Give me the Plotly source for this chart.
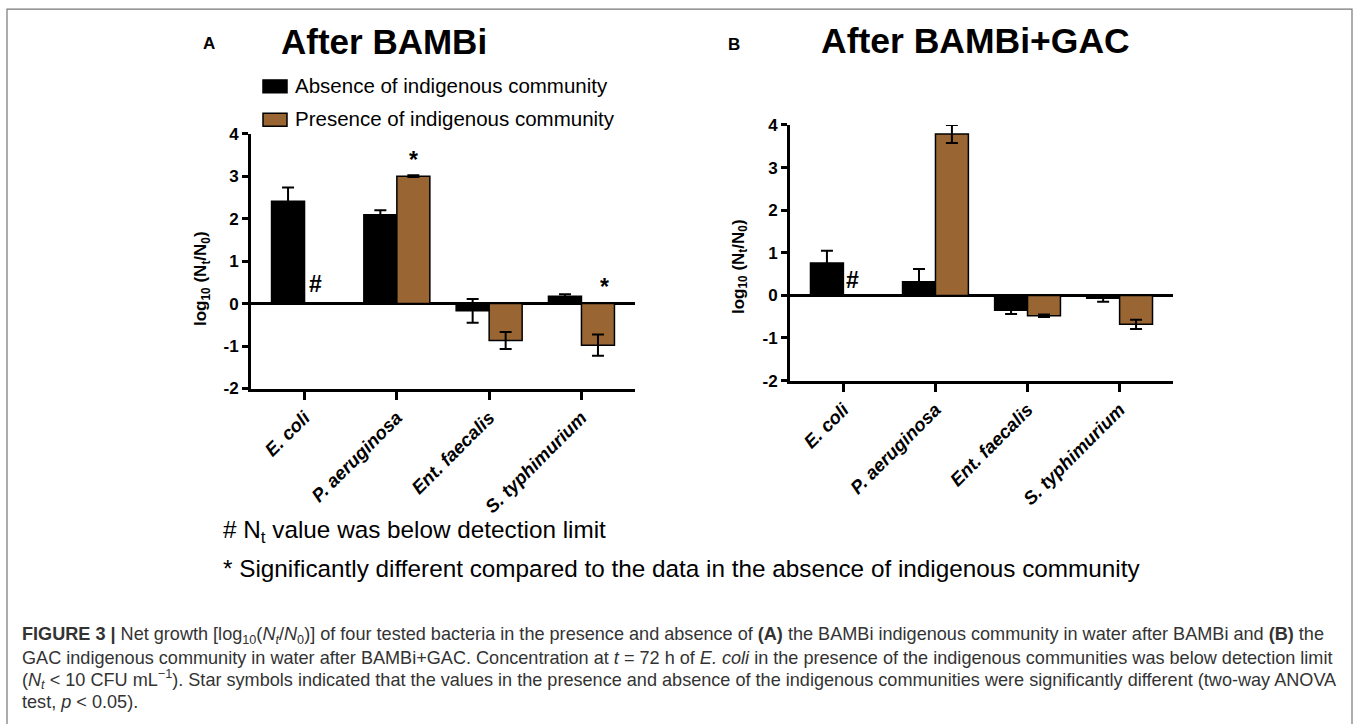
import plotly.graph_objects as go

W, H = 1357, 724

categories = ["E. coli", "P. aeruginosa", "Ent. faecalis", "S. typhimurium"]
series_names = ["Absence of indigenous community", "Presence of indigenous community"]
y_ticks = [-2, -1, 0, 1, 2, 3, 4]
y_ticklabels = ["-2", "-1", "0", "1", "2", "3", "4"]

# Panel A: After BAMBi
a_absence = [2.41, 2.09, -0.17, 0.17]
a_absence_err = [0.32, 0.11, 0.28, 0.05]
a_presence = [None, 3.00, -0.87, -0.98]
a_presence_err = [0, 0.02, 0.20, 0.25]

# Panel B: After BAMBi+GAC
b_absence = [0.76, 0.32, -0.35, -0.07]
b_absence_err = [0.29, 0.30, 0.09, 0.08]
b_presence = [None, 3.79, -0.48, -0.68]
b_presence_err = [0, 0.21, 0.03, 0.11]

# markers: (category position, y, symbol)
a_marks = [(0.12, 0.45, "#"), (1.18, 3.38, "*"), (3.25, 0.38, "*")]
b_marks = [(0.10, 0.37, "#"), (1.17, 4.42, "*")]

colors = ["#000000", "#996633"]
FONT = "Liberation Sans, Arial, sans-serif"

# the photographed page is slightly compressed vertically; map reference pixels accordingly
V_OFF, V_SCALE = 7.8, 0.978


def px(x):
    return x / W


def py(y):
    return 1 - ((y - V_OFF) / V_SCALE) / H


fig = go.Figure()

panels = [
    ("x", "y", a_absence, a_absence_err, a_presence, a_presence_err),
    ("x2", "y2", b_absence, b_absence_err, b_presence, b_presence_err),
]
for xa, ya, v1, e1, v2, e2 in panels:
    for name, vals, errs, col in [(series_names[0], v1, e1, colors[0]),
                                  (series_names[1], v2, e2, colors[1])]:
        fig.add_trace(go.Bar(
            x=list(range(len(categories))), y=vals, name=name,
            xaxis=xa, yaxis=ya, showlegend=False,
            marker=dict(color=col, line=dict(color="black", width=1.5)),
            error_y=dict(type="data", array=errs, symmetric=True,
                         color="black", thickness=2, width=6),
        ))

axis_common_x = dict(
    range=[-0.58, 3.58], tickmode="array", tickvals=list(range(len(categories))),
    ticktext=categories, tickangle=-45, showline=True, linewidth=3, linecolor="black",
    ticks="outside", ticklen=8, tickwidth=3, tickcolor="black", showgrid=False,
    zeroline=False,
    tickfont=dict(family=FONT, size=18.5, color="black", weight="bold", style="italic"),
)
axis_common_y = dict(
    range=[-2, 4], tickmode="array", tickvals=y_ticks, ticktext=y_ticklabels,
    showline=True, linewidth=3, linecolor="black",
    ticks="outside", ticklen=6, tickwidth=3, tickcolor="black", showgrid=False,
    zeroline=True, zerolinewidth=3, zerolinecolor="black",
    tickfont=dict(family=FONT, size=17, color="black", weight="bold"),
)

fig.update_layout(
    width=W, height=H, margin=dict(l=0, r=0, t=0, b=0),
    paper_bgcolor="white", plot_bgcolor="white",
    barmode="group", bargap=0.285, bargroupgap=0,
    xaxis=dict(domain=[px(251), px(635)], anchor="y", **axis_common_x),
    yaxis=dict(domain=[py(389), py(133)], anchor="x", **axis_common_y),
    xaxis2=dict(domain=[px(790), px(1173)], anchor="y2", **axis_common_x),
    yaxis2=dict(domain=[py(381), py(124.3)], anchor="x2", **axis_common_y),
)

ann = []
# significance marks
for xa, ya, marks in [("x", "y", a_marks), ("x2", "y2", b_marks)]:
    for xv, yv, s in marks:
        ann.append(dict(x=xv, y=yv, xref=xa, yref=ya, text="<b>%s</b>" % s,
                        showarrow=False, xanchor="center", yanchor="middle",
                        font=dict(family=FONT, size=23, color="black")))

# titles and panel letters
titles = [
    (209, 42, "<b>A</b>", 17),
    (384, 40, "<b>After BAMBi</b>", 35),
    (734, 43, "<b>B</b>", 17),
    (975, 40, "<b>After BAMBi+GAC</b>", 35.5),
]
for xx, yy, t, s in titles:
    ann.append(dict(x=px(xx), y=py(yy), xref="paper", yref="paper", showarrow=False,
                    xanchor="center", yanchor="middle", text=t,
                    font=dict(family=FONT, size=s, color="black")))

# y axis titles
for xx, yy in [(202, 279), (740, 267)]:
    ann.append(dict(x=px(xx), y=py(yy), xref="paper", yref="paper", showarrow=False,
                    textangle=-90, xanchor="center", yanchor="middle",
                    text="<b>log<sub>10</sub> (N<sub>t</sub>/N<sub>0</sub>)</b>",
                    font=dict(family=FONT, size=17, color="black")))

# legend (panel A)
shapes = []
leg = [(85.5, colors[0]), (119, colors[1])]
for (yc, col), name in zip(leg, series_names):
    shapes.append(dict(type="rect", xref="paper", yref="paper",
                       x0=px(263), x1=px(287), y0=py(yc + 6.5), y1=py(yc - 6.5),
                       fillcolor=col, line=dict(color="black", width=1.5)))
    ann.append(dict(x=px(293), y=py(yc - 1), xref="paper", yref="paper", showarrow=False,
                    xanchor="left", yanchor="middle", text=name,
                    font=dict(family=FONT, size=20.5, color="black")))

# footnotes
ann.append(dict(x=px(221), y=py(533), xref="paper", yref="paper", showarrow=False,
                xanchor="left", yanchor="middle",
                text="# N<sub>t</sub> value was below detection limit",
                font=dict(family=FONT, size=24.3, color="black")))
ann.append(dict(x=px(221), y=py(570), xref="paper", yref="paper", showarrow=False,
                xanchor="left", yanchor="middle",
                text="* Significantly different compared to the data in the absence of indigenous community",
                font=dict(family=FONT, size=24.3, color="black")))

# caption
cap_lines = [
    "<b>FIGURE 3 |</b> Net growth [log<sub>10</sub>(<i>N<sub>t</sub></i>/<i>N</i><sub>0</sub>)] of four tested bacteria in the presence and absence of <b>(A)</b> the BAMBi indigenous community in water after BAMBi and <b>(B)</b> the",
    "GAC indigenous community in water after BAMBi+GAC. Concentration at <i>t</i> = 72 h of <i>E. coli</i> in the presence of the indigenous communities was below detection limit",
    "(<i>N<sub>t</sub></i> &lt; 10 CFU mL<sup>−1</sup>). Star symbols indicated that the values in the presence and absence of the indigenous communities were significantly different (two-way ANOVA",
    "test, <i>p</i> &lt; 0.05).",
]
for i, line in enumerate(cap_lines):
    ann.append(dict(x=px(20), y=py(637 + 22.3 * i), xref="paper", yref="paper", showarrow=False,
                    xanchor="left", yanchor="middle", text=line,
                    font=dict(family=FONT, size=18.1, color="#333333")))

# outer frame
shapes.append(dict(type="rect", xref="paper", yref="paper", x0=px(7), x1=px(1352),
                   y0=-0.1, y1=py(8), line=dict(color="#777777", width=1.2),
                   fillcolor="rgba(0,0,0,0)"))

fig.update_layout(annotations=ann, shapes=shapes)
fig.write_html(
    "out.html",
    config={"displayModeBar": False},
    post_script=(
        "document.body.style.margin='0';"
        "document.documentElement.style.overflow='hidden';"
    ),
)
